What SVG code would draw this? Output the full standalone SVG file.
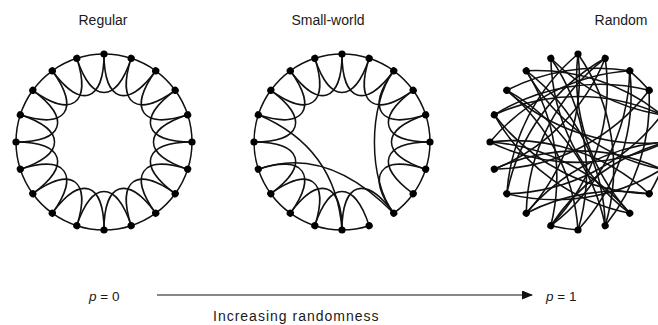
<svg xmlns="http://www.w3.org/2000/svg" width="658" height="325" viewBox="0 0 658 325">
<style>
.e{fill:none;stroke:#111;stroke-width:1.5}
.re{fill:none;stroke:#111;stroke-width:1.6}
.n{fill:#000}
.t{font-family:"Liberation Sans",Arial,sans-serif;font-size:14px;fill:#1a1a1a}
.b{font-size:13.5px}
.i{font-style:italic}
</style>
<defs>
<path id="arc" class="e" d="M0,-88 A88,88 0 0 1 27.19,-83.70"/>
<path id="loop" class="e" d="M0,-88 C0,-40 23.51,-32.36 51.73,-71.19"/>
<circle id="dot" class="n" cx="0" cy="-88" r="3.6"/>
<marker id="ah" markerWidth="11" markerHeight="9" refX="10" refY="4.5" orient="auto" markerUnits="userSpaceOnUse">
<path d="M0,0 L11,4.5 L0,9 Z" fill="#111"/>
</marker>
</defs>
<g id="titles" class="t">
<text x="103" y="25" text-anchor="middle">Regular</text>
<text x="328" y="25" text-anchor="middle">Small-world</text>
<text x="621" y="25" text-anchor="middle">Random</text>
</g>
<g id="regular" transform="translate(104,142)">
<g id="regular-connectors">
<use href="#arc" transform="rotate(0)"/><use href="#arc" transform="rotate(18)"/><use href="#arc" transform="rotate(36)"/><use href="#arc" transform="rotate(54)"/><use href="#arc" transform="rotate(72)"/><use href="#arc" transform="rotate(90)"/><use href="#arc" transform="rotate(108)"/><use href="#arc" transform="rotate(126)"/><use href="#arc" transform="rotate(144)"/><use href="#arc" transform="rotate(162)"/><use href="#arc" transform="rotate(180)"/><use href="#arc" transform="rotate(198)"/><use href="#arc" transform="rotate(216)"/><use href="#arc" transform="rotate(234)"/><use href="#arc" transform="rotate(252)"/><use href="#arc" transform="rotate(270)"/><use href="#arc" transform="rotate(288)"/><use href="#arc" transform="rotate(306)"/><use href="#arc" transform="rotate(324)"/><use href="#arc" transform="rotate(342)"/>
<use href="#loop" transform="rotate(0)"/><use href="#loop" transform="rotate(18)"/><use href="#loop" transform="rotate(36)"/><use href="#loop" transform="rotate(54)"/><use href="#loop" transform="rotate(72)"/><use href="#loop" transform="rotate(90)"/><use href="#loop" transform="rotate(108)"/><use href="#loop" transform="rotate(126)"/><use href="#loop" transform="rotate(144)"/><use href="#loop" transform="rotate(162)"/><use href="#loop" transform="rotate(180)"/><use href="#loop" transform="rotate(198)"/><use href="#loop" transform="rotate(216)"/><use href="#loop" transform="rotate(234)"/><use href="#loop" transform="rotate(252)"/><use href="#loop" transform="rotate(270)"/><use href="#loop" transform="rotate(288)"/><use href="#loop" transform="rotate(306)"/><use href="#loop" transform="rotate(324)"/><use href="#loop" transform="rotate(342)"/>
</g>
<g id="regular-nodes">
<use id="rg0" href="#dot" transform="rotate(0)"/><use id="rg1" href="#dot" transform="rotate(18)"/><use id="rg2" href="#dot" transform="rotate(36)"/><use id="rg3" href="#dot" transform="rotate(54)"/><use id="rg4" href="#dot" transform="rotate(72)"/><use id="rg5" href="#dot" transform="rotate(90)"/><use id="rg6" href="#dot" transform="rotate(108)"/><use id="rg7" href="#dot" transform="rotate(126)"/><use id="rg8" href="#dot" transform="rotate(144)"/><use id="rg9" href="#dot" transform="rotate(162)"/><use id="rg10" href="#dot" transform="rotate(180)"/><use id="rg11" href="#dot" transform="rotate(198)"/><use id="rg12" href="#dot" transform="rotate(216)"/><use id="rg13" href="#dot" transform="rotate(234)"/><use id="rg14" href="#dot" transform="rotate(252)"/><use id="rg15" href="#dot" transform="rotate(270)"/><use id="rg16" href="#dot" transform="rotate(288)"/><use id="rg17" href="#dot" transform="rotate(306)"/><use id="rg18" href="#dot" transform="rotate(324)"/><use id="rg19" href="#dot" transform="rotate(342)"/>
</g>
</g>
<g id="small-world" transform="translate(342,142)">
<g id="small-world-connectors">
<use href="#arc" transform="rotate(0)"/><use href="#arc" transform="rotate(18)"/><use href="#arc" transform="rotate(36)"/><use href="#arc" transform="rotate(54)"/><use href="#arc" transform="rotate(72)"/><use href="#arc" transform="rotate(90)"/><use href="#arc" transform="rotate(108)"/><use href="#arc" transform="rotate(126)"/><use href="#arc" transform="rotate(162)"/><use href="#arc" transform="rotate(180)"/><use href="#arc" transform="rotate(198)"/><use href="#arc" transform="rotate(216)"/><use href="#arc" transform="rotate(234)"/><use href="#arc" transform="rotate(252)"/><use href="#arc" transform="rotate(270)"/><use href="#arc" transform="rotate(288)"/><use href="#arc" transform="rotate(306)"/><use href="#arc" transform="rotate(324)"/><use href="#arc" transform="rotate(342)"/>
<use href="#loop" transform="rotate(0)"/><use href="#loop" transform="rotate(18)"/><use href="#loop" transform="rotate(36)"/><use href="#loop" transform="rotate(54)"/><use href="#loop" transform="rotate(72)"/><use href="#loop" transform="rotate(90)"/><use href="#loop" transform="rotate(108)"/><use href="#loop" transform="rotate(144)"/><use href="#loop" transform="rotate(162)"/><use href="#loop" transform="rotate(180)"/><use href="#loop" transform="rotate(198)"/><use href="#loop" transform="rotate(216)"/><use href="#loop" transform="rotate(234)"/><use href="#loop" transform="rotate(270)"/><use href="#loop" transform="rotate(288)"/><use href="#loop" transform="rotate(306)"/><use href="#loop" transform="rotate(324)"/><use href="#loop" transform="rotate(342)"/>
<path class="e" d="M-83.70,-27.19 Q-6,5.5 0,88"/>
<path class="e" d="M-83.70,27.19 Q-16,2.5 51.73,71.19"/>
<path class="e" d="M51.73,-71.19 C26,-37 26,38 51.73,71.19"/>
</g>
<g id="small-world-nodes">
<use id="sw0" href="#dot" transform="rotate(0)"/><use id="sw1" href="#dot" transform="rotate(18)"/><use id="sw2" href="#dot" transform="rotate(36)"/><use id="sw3" href="#dot" transform="rotate(54)"/><use id="sw4" href="#dot" transform="rotate(72)"/><use id="sw5" href="#dot" transform="rotate(90)"/><use id="sw6" href="#dot" transform="rotate(108)"/><use id="sw7" href="#dot" transform="rotate(126)"/><use id="sw8" href="#dot" transform="rotate(144)"/><use id="sw9" href="#dot" transform="rotate(162)"/><use id="sw10" href="#dot" transform="rotate(180)"/><use id="sw11" href="#dot" transform="rotate(198)"/><use id="sw12" href="#dot" transform="rotate(216)"/><use id="sw13" href="#dot" transform="rotate(234)"/><use id="sw14" href="#dot" transform="rotate(252)"/><use id="sw15" href="#dot" transform="rotate(270)"/><use id="sw16" href="#dot" transform="rotate(288)"/><use id="sw17" href="#dot" transform="rotate(306)"/><use id="sw18" href="#dot" transform="rotate(324)"/><use id="sw19" href="#dot" transform="rotate(342)"/>
</g>
</g>
<g id="random" transform="translate(578,142)">
<g id="random-connectors" class="re">
<path d="M51.73,-71.19 A200,200 0 0 1 71.19,-51.73"/>
<path d="M83.70,27.19 A200,200 0 0 1 71.19,51.73"/>
<path d="M0,88 A200,200 0 0 1 -27.19,83.70"/>
<path d="M-27.19,-83.70 A200,200 0 0 0 51.73,71.19"/>
<path d="M-27.19,-83.70 A200,200 0 0 1 0,88"/>
<path d="M0,-88 A200,200 0 0 0 -71.19,51.73"/>
<path d="M0,-88 A200,200 0 0 1 27.19,83.70"/>
<path d="M27.19,-83.70 A200,200 0 0 0 -51.73,71.19"/>
<path d="M27.19,-83.70 A200,200 0 0 1 -83.70,27.19"/>
<path d="M51.73,-71.19 A200,200 0 0 0 -71.19,-51.73"/>
<path d="M51.73,-71.19 A200,200 0 0 1 -27.19,83.70"/>
<path d="M71.19,-51.73 A200,200 0 0 0 -83.70,-27.19"/>
<path d="M71.19,-51.73 A200,200 0 0 1 27.19,83.70"/>
<path d="M-71.19,-51.73 A200,200 0 0 0 88,0"/>
<path d="M-71.19,-51.73 A200,200 0 0 1 0,88"/>
<path d="M-51.73,-71.19 A200,200 0 0 0 83.70,27.19"/>
<path d="M-51.73,-71.19 A200,200 0 0 1 27.19,83.70"/>
<path d="M-83.70,-27.19 A200,200 0 0 1 83.70,-27.19"/>
<path d="M-83.70,-27.19 A200,200 0 0 0 71.19,51.73"/>
<path d="M-88,0 A200,200 0 0 0 88,0"/>
<path d="M-88,0 A200,200 0 0 1 51.73,71.19"/>
<path d="M-83.70,27.19 A200,200 0 0 1 83.70,27.19"/>
<path d="M-83.70,27.19 A200,200 0 0 0 71.19,-51.73"/>
<path d="M-71.19,51.73 A200,200 0 0 1 27.19,-83.70"/>
<path d="M-71.19,51.73 A200,200 0 0 0 83.70,-27.19"/>
<path d="M-51.73,71.19 A200,200 0 0 0 0,-88"/>
<path d="M-51.73,71.19 A200,200 0 0 1 71.19,51.73"/>
<path d="M-27.19,83.70 A200,200 0 0 0 -51.73,-71.19"/>
<path d="M-27.19,83.70 A200,200 0 0 1 88,0"/>
<path d="M0,88 A200,200 0 0 0 51.73,-71.19"/>
<path d="M27.19,83.70 A200,200 0 0 0 -71.19,-51.73"/>
<path d="M51.73,71.19 A200,200 0 0 1 -83.70,-27.19"/>
<path d="M71.19,51.73 A200,200 0 0 0 -88,0"/>
<path d="M83.70,-27.19 A200,200 0 0 1 -27.19,-83.70"/>
<path d="M88,0 A200,200 0 0 0 -51.73,71.19"/>
<path d="M83.70,27.19 A200,200 0 0 1 -71.19,51.73"/>
<path d="M0,-88 A200,200 0 0 0 51.73,71.19"/>
<path d="M27.19,-83.70 A200,200 0 0 1 -27.19,83.70"/>
<path d="M-88,0 A200,200 0 0 1 51.73,-71.19"/>
<path d="M83.70,-27.19 A200,200 0 0 0 -51.73,-71.19"/>
</g>
<g id="random-nodes">
<use id="rd0" href="#dot" transform="rotate(0)"/><use id="rd1" href="#dot" transform="rotate(18)"/><use id="rd2" href="#dot" transform="rotate(36)"/><use id="rd3" href="#dot" transform="rotate(54)"/><use id="rd4" href="#dot" transform="rotate(72)"/><use id="rd5" href="#dot" transform="rotate(90)"/><use id="rd6" href="#dot" transform="rotate(108)"/><use id="rd7" href="#dot" transform="rotate(126)"/><use id="rd8" href="#dot" transform="rotate(144)"/><use id="rd9" href="#dot" transform="rotate(162)"/><use id="rd10" href="#dot" transform="rotate(180)"/><use id="rd11" href="#dot" transform="rotate(198)"/><use id="rd12" href="#dot" transform="rotate(216)"/><use id="rd13" href="#dot" transform="rotate(234)"/><use id="rd14" href="#dot" transform="rotate(252)"/><use id="rd15" href="#dot" transform="rotate(270)"/><use id="rd16" href="#dot" transform="rotate(288)"/><use id="rd17" href="#dot" transform="rotate(306)"/><use id="rd18" href="#dot" transform="rotate(324)"/><use id="rd19" href="#dot" transform="rotate(342)"/>
</g>
</g>
<g id="axis">
<line x1="157" y1="295" x2="532" y2="295" stroke="#111" stroke-width="1.2" marker-end="url(#ah)"/>
<text class="t b" x="89" y="301"><tspan class="i">p</tspan> = 0</text>
<text class="t b" x="546" y="301"><tspan class="i">p</tspan> = 1</text>
<text class="t" x="213" y="321" letter-spacing="1">Increasing randomness</text>
</g>
</svg>
